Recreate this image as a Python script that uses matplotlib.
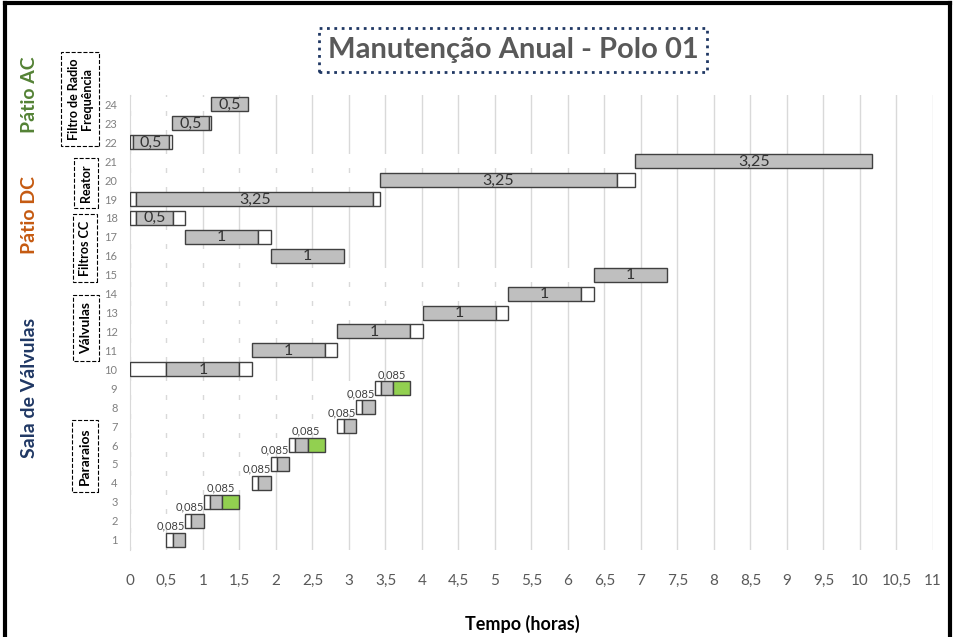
import matplotlib
matplotlib.use("Agg")
import matplotlib.pyplot as plt
import numpy as np

plt.rcParams['font.family'] = ['Lato', 'DejaVu Sans']

# ---- data (hours) ----
rows = list(range(1, 25))
# invisible start offset of each task
offset = [0.5, 0.755, 1.01, 1.67, 1.925, 2.18, 2.84, 3.095, 3.35,
          0.0, 1.67, 2.84, 4.01, 5.18, 6.35, 1.925, 0.755, 0.0,
          0.0, 3.42, 6.92, 0.0, 0.58, 1.11]
# white segment before the main task
pre = [0.085, 0.085, 0.085, 0.085, 0.085, 0.085, 0.085, 0.085, 0.085,
       0.5, 0, 0, 0, 0, 0, 0, 0, 0.085,
       0.085, 0, 0, 0.04, 0, 0]
# main task (grey)
dur = [0.17, 0.17, 0.17, 0.17, 0.17, 0.17, 0.17, 0.17, 0.17,
       1, 1, 1, 1, 1, 1, 1, 1, 0.5,
       3.25, 3.25, 3.25, 0.5, 0.5, 0.5]
# white segment after the main task
post = [0, 0, 0, 0, 0, 0, 0, 0, 0,
        0.17, 0.17, 0.17, 0.17, 0.17, 0, 0, 0.17, 0.17,
        0.085, 0.25, 0, 0.04, 0.03, 0]
# green segment
extra = [0, 0, 0.235, 0, 0, 0.235, 0, 0, 0.235,
         0, 0, 0, 0, 0, 0, 0, 0, 0,
         0, 0, 0, 0, 0, 0]

xticks = np.arange(0, 11.01, 0.5)

def fmt(v):
    return ('%g' % v).replace('.', ',')

fig = plt.figure(figsize=(9.54, 6.37), dpi=100)
ax = fig.add_axes([130/954, 87/637, 803/954, 455/637])

rows = np.array(rows)
offset = np.array(offset)
pre = np.array(pre)
dur = np.array(dur)
post = np.array(post)
extra = np.array(extra)

h = 0.74
edge = '#404040'
ax.barh(rows, offset, height=h, color='white', lw=0, zorder=2)
left = offset.copy()
m = pre > 0
ax.barh(rows[m], pre[m], left=left[m], height=h, color='white', edgecolor=edge, lw=1, zorder=3)
left = left + pre
ax.barh(rows, dur, left=left, height=h, color='#bfbfbf', edgecolor=edge, lw=1, zorder=3)
gray_left = left.copy()
left = left + dur
m = post > 0
ax.barh(rows[m], post[m], left=left[m], height=h, color='white', edgecolor=edge, lw=1, zorder=3)
left = left + post
m = extra > 0
ax.barh(rows[m], extra[m], left=left[m], height=h, color='#92d050', edgecolor=edge, lw=1, zorder=3)

# labels
for r, o, p, d, e, gl in zip(rows, offset, pre, dur, extra, gray_left):
    if r <= 9:
        x = gl + d if e > 0 else gl
        ax.text(x - 0.02, r + 0.72, fmt(p), ha='center', va='center',
                fontsize=8, color='#404040', zorder=5)
    else:
        ax.text(gl + d / 2, r - 0.02, fmt(d), ha='center', va='center',
                fontsize=11.5, color='#333333', zorder=5)

ax.set_xlim(0, 11)
ax.set_ylim(0.45, 24.5)
ax.set_xticks(xticks)
ax.set_xticklabels([fmt(t) for t in xticks])
ax.set_yticks(rows)
ax.grid(axis='x', color='#d9d9d9', lw=1)
ax.set_axisbelow(True)
for s in ['top', 'right', 'bottom']:
    ax.spines[s].set_visible(False)
ax.spines['left'].set_color('#d9d9d9')
ax.tick_params(axis='x', length=0, pad=17, labelsize=11, labelcolor='#595959')
ax.tick_params(axis='y', length=0, pad=9, labelsize=8, labelcolor='#808080')

fig.text(522/954, 1 - 624/637, 'Tempo (horas)', ha='center', va='center',
         fontsize=13, fontweight='bold', color='black')

# title
fig.text(513/954, 1 - 50/637, 'Manutenção Anual - Polo 01', ha='center', va='center',
         fontsize=21, color='#595959', fontweight='bold',
         bbox=dict(boxstyle='square,pad=0.3', fc='white', ec='#203864', ls=':', lw=2))

# area labels
fig.text(30/954, 1 - 95/637, 'Pátio AC', rotation=90, ha='center', va='center',
         fontsize=14, color='#548235', fontweight='bold')
fig.text(30/954, 1 - 215/637, 'Pátio DC', rotation=90, ha='center', va='center',
         fontsize=14, color='#c55a11', fontweight='bold')
fig.text(30/954, 1 - 388/637, 'Sala de Válvulas', rotation=90, ha='center', va='center',
         fontsize=14, color='#203864', fontweight='bold')

box = dict(boxstyle='square,pad=0.5', fc='white', ec='black', ls='--', lw=0.8)
fig.text(80/954, 1 - 99/637, 'Filtro de Radio\nFrequência', rotation=90, ha='center',
         va='center', fontsize=9, fontweight='bold', bbox=box, linespacing=1.1)
fig.text(86/954, 1 - 183/637, 'Reator', rotation=90, ha='center', va='center',
         fontsize=9, fontweight='bold', bbox=box)
fig.text(85/954, 1 - 248/637, 'Filtros CC', rotation=90, ha='center', va='center',
         fontsize=9, fontweight='bold', bbox=box)
fig.text(86/954, 1 - 328/637, 'Válvulas', rotation=90, ha='center', va='center',
         fontsize=10, fontweight='bold', bbox=box)
fig.text(85/954, 1 - 456/637, 'Pararaios', rotation=90, ha='center', va='center',
         fontsize=10, fontweight='bold', bbox=box)

# outer frame
fig.add_artist(plt.Line2D([5/954, 5/954], [0, 1 - 3/637], color='black', lw=3))
fig.add_artist(plt.Line2D([5/954, 950/954], [1 - 3/637, 1 - 3/637], color='black', lw=3))
fig.add_artist(plt.Line2D([950/954, 950/954], [0, 1 - 3/637], color='black', lw=3))

fig.savefig('out.png', dpi=100)
